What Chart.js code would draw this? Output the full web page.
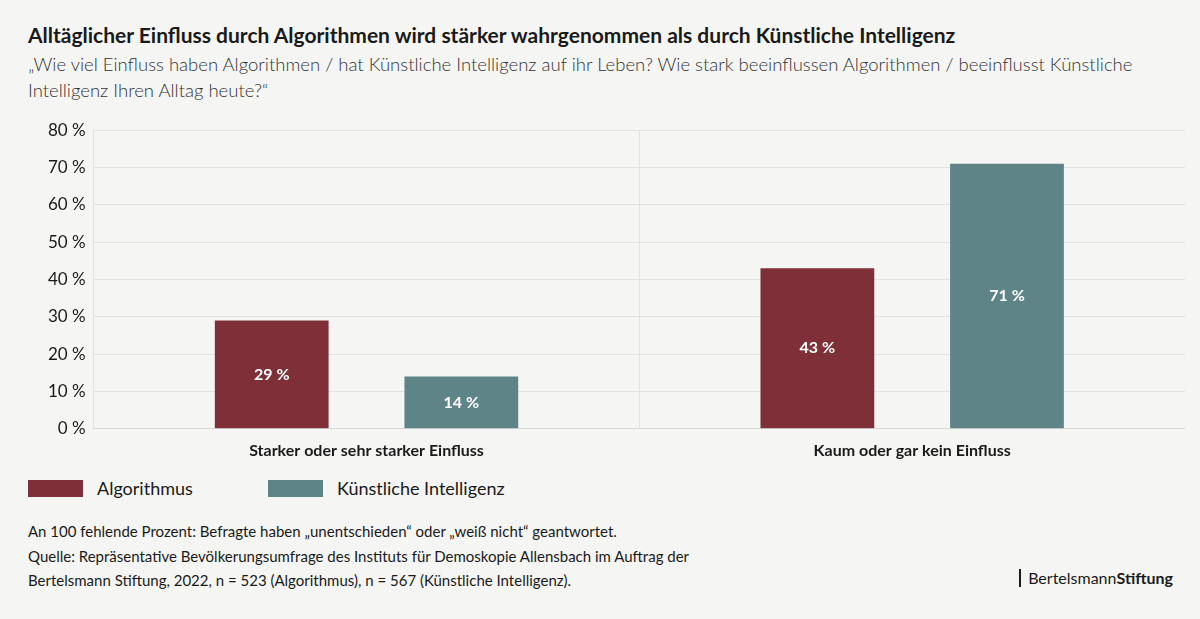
<!DOCTYPE html>
<html><head><meta charset="utf-8">
<script src="https://cdn.jsdelivr.net/npm/chart.js@4"></script>
<style>
body{margin:0;width:1200px;height:619px;background:#f5f6f3;font-family:Lato,sans-serif;color:#1a1a1a;position:relative;overflow:hidden}
.t{position:absolute;left:28px;top:22px;font-size:21px;font-weight:bold}
.s{position:absolute;left:28px;top:51px;font-size:18.5px;font-weight:300;line-height:26px;width:1150px;color:#333}
#wrap{position:absolute;left:0;top:112px;width:1185px;height:360px}
.lg{position:absolute;top:477px;font-size:18px;display:flex;align-items:center}
.lg span{display:inline-block;width:55px;height:17px;margin-right:14px}
.f{position:absolute;left:28px;top:519px;font-size:15px;line-height:24.5px}
.logo{position:absolute;right:27px;top:569px;font-size:16px;border-left:2px solid #1a1a1a;padding-left:7px;line-height:18px}
</style></head><body>
<div class="t">Alltäglicher Einfluss durch Algorithmen wird stärker wahrgenommen als durch Künstliche Intelligenz</div>
<div class="s">„Wie viel Einfluss haben Algorithmen / hat Künstliche Intelligenz auf ihr Leben? Wie stark beeinflussen Algorithmen / beeinflusst Künstliche Intelligenz Ihren Alltag heute?“</div>
<div id="wrap"><canvas id="c"></canvas></div>
<div class="lg" style="left:28px"><span style="background:#7f2f38"></span>Algorithmus</div>
<div class="lg" style="left:268px"><span style="background:#5f8488"></span>Künstliche Intelligenz</div>
<div class="f">An 100 fehlende Prozent: Befragte haben „unentschieden“ oder „weiß nicht“ geantwortet.<br>Quelle: Repräsentative Bevölkerungsumfrage des Instituts für Demoskopie Allensbach im Auftrag der<br>Bertelsmann Stiftung, 2022, n = 523 (Algorithmus), n = 567 (Künstliche Intelligenz).</div>
<div class="logo">Bertelsmann<b>Stiftung</b></div>
<script>
const categories=["Starker oder sehr starker Einfluss","Kaum oder gar kein Einfluss"];
const algorithmus=[29,43];
const ki=[14,71];
const seriesNames=["Algorithmus","Künstliche Intelligenz"];
const labelsPlugin={id:'vl',afterDatasetsDraw(ch){const ctx=ch.ctx;ctx.save();ctx.fillStyle='#fff';ctx.font='bold 16px Lato';ctx.textAlign='center';ctx.textBaseline='middle';
ch.data.datasets.forEach((d,i)=>ch.getDatasetMeta(i).data.forEach((b,j)=>{ctx.fillText(d.data[j]+' %',b.x,(b.y+b.base)/2);}));ctx.restore();}};
new Chart(document.getElementById('c'),{type:'bar',
data:{labels:categories,datasets:[
{label:seriesNames[0],data:algorithmus,backgroundColor:'#7f2f38',categoryPercentage:0.695,barPercentage:0.6},
{label:seriesNames[1],data:ki,backgroundColor:'#5f8488',categoryPercentage:0.695,barPercentage:0.6}]},
options:{responsive:true,maintainAspectRatio:false,animation:false,
layout:{padding:{left:40,top:8}},
plugins:{legend:{display:false},tooltip:{enabled:false}},
scales:{y:{min:0,max:80,ticks:{stepSize:10,color:'#1a1a1a',font:{family:'Lato',size:17},callback:v=>v+' %',padding:8},grid:{color:'#e2e3df',drawTicks:false},border:{display:false}},
x:{ticks:{color:'#1a1a1a',font:{family:'Lato',size:16,weight:'bold'},padding:12},grid:{color:'#e2e3df',drawTicks:false,offset:true},border:{color:'#d8d9d5'}}}},
plugins:[labelsPlugin]});
</script></body></html>
